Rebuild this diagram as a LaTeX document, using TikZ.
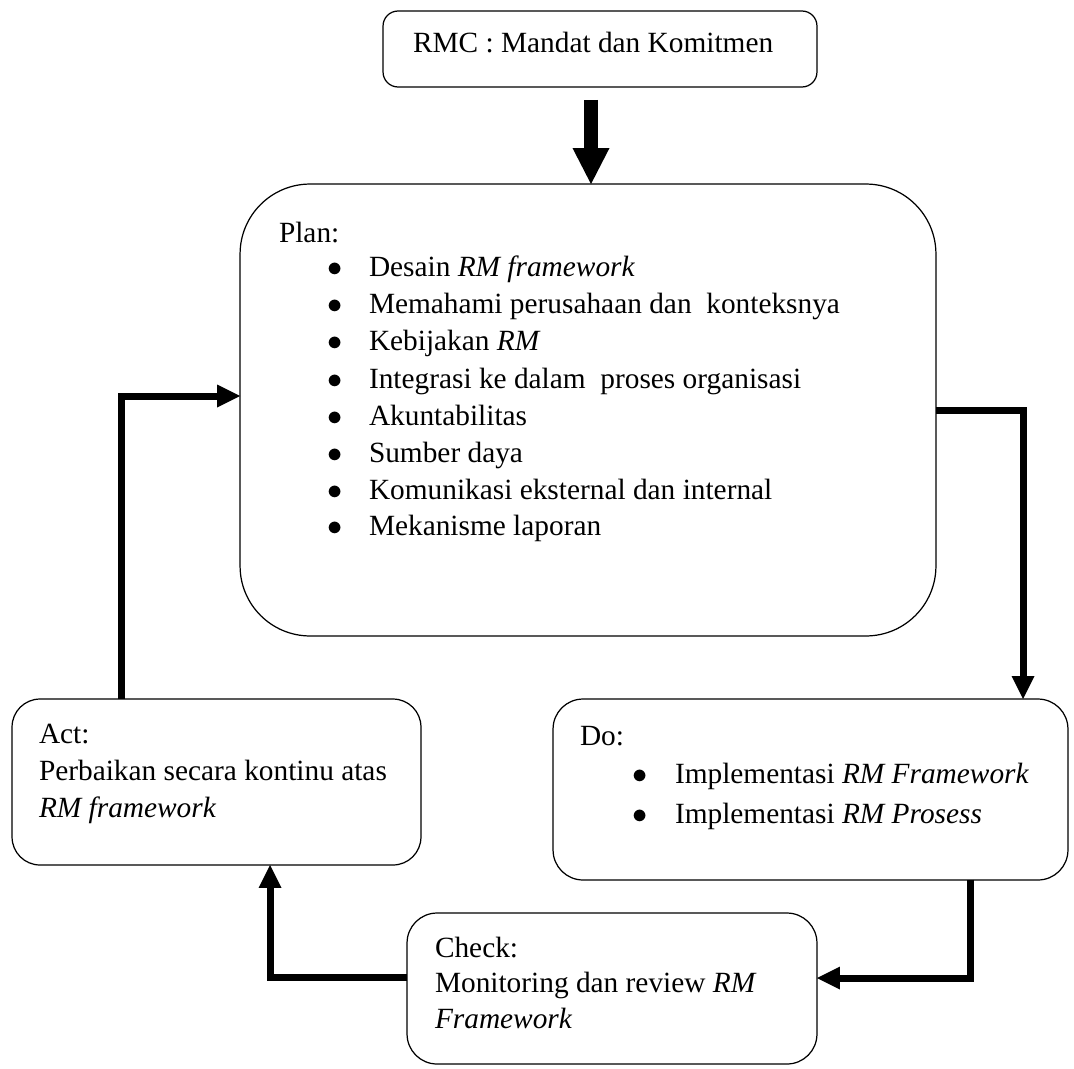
\documentclass[tikz,border=0pt]{standalone}
\usepackage{fontspec}
\setmainfont{Liberation Serif}
\usetikzlibrary{arrows.meta}
\begin{document}
\begin{tikzpicture}[x=0.02cm,y=-0.02cm,
  box/.style={draw=black, line width=0.7pt, rounded corners=#1, outer sep=0pt, inner sep=0pt, fill=white},
  txt/.style={anchor=base west, inner sep=0pt, outer sep=0pt, font=\fontsize{16.7}{20}\selectfont},
  bul/.style={txt, font=\fontsize{18}{20}\selectfont},
  conn/.style={line width=0.14cm, -{Triangle[width=0.46cm,length=0.46cm,line width=0pt]}},
  bigconn/.style={line width=0.28cm, -{Triangle[width=0.74cm,length=0.72cm,line width=0pt]}}
]
\useasboundingbox (0,0) rectangle (1074,1068);
% boxes
\node[box=0.3cm, minimum width=8.68cm, minimum height=1.52cm] (rmc) at (600,49) {};
\node[box=1.4cm, minimum width=13.92cm, minimum height=9.04cm] (plan) at (588,410) {};
\node[box=0.56cm, minimum width=8.18cm, minimum height=3.32cm] (act) at (216.5,782) {};
\node[box=0.6cm, minimum width=10.3cm, minimum height=3.62cm] (do) at (810.5,789.5) {};
\node[box=0.6cm, minimum width=8.2cm, minimum height=3.02cm] (check) at (612,988.5) {};
% texts
\node[txt] (t-rmc) at (413,53) {RMC : Mandat dan Komitmen};
\node[txt] (t-plan) at (279,242) {Plan:};
\foreach \y/\t [count=\i] in {276/{Desain \textit{RM framework}},
  313/{Memahami perusahaan dan\ \ konteksnya},
  350/{Kebijakan \textit{RM}},
  388/{Integrasi ke dalam\ \ proses organisasi},
  425/{Akuntabilitas},
  462/{Sumber daya},
  499/{Komunikasi eksternal dan internal},
  535/{Mekanisme laporan}}{
  \node[bul] (pb\i) at (327,\y) {$\bullet$};
  \node[txt] (pi\i) at (369,\y) {\t};
}
\node[txt] (t-act1) at (39,743) {Act:};
\node[txt] (t-act2) at (39,780) {Perbaikan secara kontinu atas};
\node[txt] (t-act3) at (39,817) {\textit{RM framework}};
\node[txt] (t-do) at (580,745) {Do:};
\node[bul] (db1) at (632,783) {$\bullet$};
\node[txt] (di1) at (675,783) {Implementasi \textit{RM Framework}};
\node[bul] (db2) at (632,823) {$\bullet$};
\node[txt] (di2) at (675,823) {Implementasi \textit{RM Prosess}};
\node[txt] (t-ch1) at (435,957) {Check:};
\node[txt] (t-ch2) at (435,992) {Monitoring dan review \textit{RM}};
\node[txt] (t-ch3) at (435,1028) {\textit{Framework}};
% connector helper coordinates
\coordinate (c1) at (591,100);
\coordinate (c2) at (1023,410);
\coordinate (c3) at (970,978);
\coordinate (c4) at (270,977);
\coordinate (c5) at (121,396);
% connectors
\draw[bigconn, shorten <=0.26cm] (rmc.south -| c1) -- (plan.north -| c1);
\draw[conn] (plan.east |- c2) -| (do.north -| c2);
\draw[conn] (do.south -| c3) |- (check.east |- c3);
\draw[conn] (check.west |- c4) -| (act.south -| c4);
\draw[conn] (act.north -| c5) |- (plan.west |- c5);
\end{tikzpicture}
\end{document}
